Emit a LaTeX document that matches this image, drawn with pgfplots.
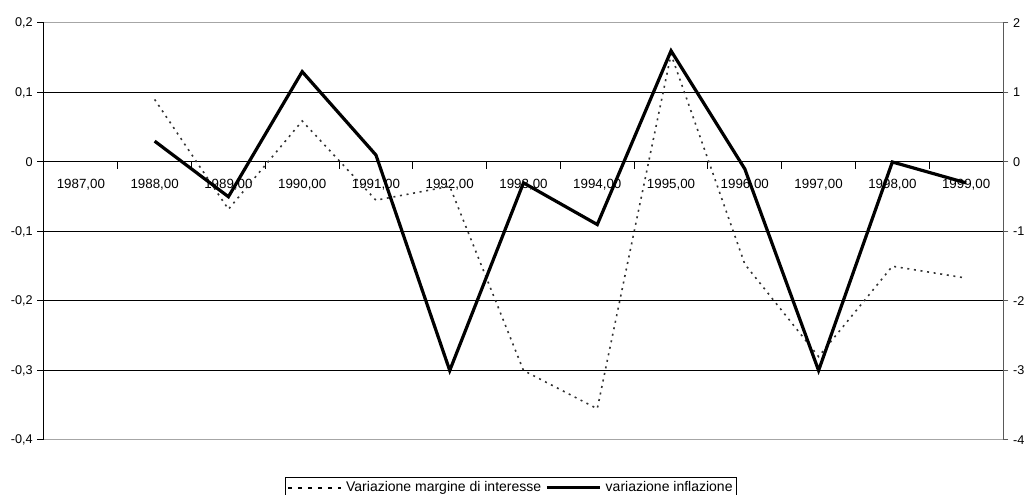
\documentclass[border=0pt]{standalone}
\usepackage{pgfplots}
\pgfplotsset{compat=1.18}
\usepackage{fontspec}
\setmainfont{Liberation Sans}
\begin{document}
\begin{tikzpicture}
\path[use as bounding box] (-33pt,-41.25pt) rectangle (739.5pt,330pt);
\begin{axis}[
  at={(0pt,0pt)}, anchor=south west,
  scale only axis, width=719.25pt, height=312.75pt,
  xmin=-0.5, xmax=12.5, ymin=-0.4, ymax=0.2,
  axis x line*=middle, axis y line*=left,
  axis line style={-, black, line width=0.75pt},
  xtick={0.5,1.5,2.5,3.5,4.5,5.5,6.5,7.5,8.5,9.5,10.5,11.5},
  xticklabels={},
  x tick style={black, line width=0.75pt, yshift=-2.5pt},
  xtick align=center,
  extra x ticks={0,1,2,3,4,5,6,7,8,9,10,11,12},
  extra x tick labels={{1987,00},{1988,00},{1989,00},{1990,00},{1991,00},{1992,00},{1993,00},{1994,00},{1995,00},{1996,00},{1997,00},{1998,00},{1999,00}},
  extra x tick style={major tick length=0pt, grid=none, xticklabel style={font=\fontsize{10}{12}\selectfont, yshift=-9pt}},
  ytick={-0.3,-0.2,-0.1,0,0.1},
  extra y ticks={-0.4,0.2},
  extra y tick style={grid style={gray!70, line width=0.75pt}},
  ymajorgrids, grid style={black, line width=0.75pt},
  ytick align=outside, major tick length=5pt,
  y tick style={black, line width=0.75pt},
  yticklabel style={font=\fontsize{9.5}{11}\selectfont, /pgf/number format/.cd, use comma, fixed, precision=1, assume math mode=true},
  clip=false,
]
\addplot[black!80, line width=1.2pt, dash pattern=on 1.5pt off 3.5pt] coordinates {
 (1,0.09) (2,-0.068) (3,0.059) (4,-0.055) (5,-0.035) (6,-0.30) (7,-0.355) (8,0.155) (9,-0.147) (10,-0.28) (11,-0.15) (12,-0.167)
};
\end{axis}
\begin{axis}[
  at={(0pt,0pt)}, anchor=south west,
  scale only axis, width=719.25pt, height=312.75pt,
  xmin=-0.5, xmax=12.5, ymin=-4, ymax=2,
  axis x line=none, axis y line*=right,
  axis line style={-, black!65, line width=0.75pt},
  ytick={-4,-3,-2,-1,0,1,2},
  tick align=outside, major tick length=4pt,
  y tick style={black!65, line width=0.75pt},
  yticklabel style={font=\fontsize{9.5}{11}\selectfont, /pgf/number format/assume math mode=true},
  legend columns=2,
  legend style={at={(0.487,-0.0887)}, anchor=north, draw=black, line width=0.75pt,
    font=\fontsize{10.5}{12}\selectfont, inner sep=1pt, column sep=1pt},
  legend image code/.code={\draw[#1] (0pt,0pt) -- (40pt,0pt);},
  legend cell align=left,
]
\addlegendimage{black, line width=1.5pt, dash pattern=on 3pt off 4.5pt}
\addlegendentry{Variazione margine di interesse}
\addplot[black, line width=2.4pt, line join=miter] coordinates {
 (1,0.3) (2,-0.5) (3,1.3) (4,0.1) (5,-3) (6,-0.3) (7,-0.9) (8,1.6) (9,-0.1) (10,-3) (11,0) (12,-0.3)
};
\addlegendentry{variazione inflazione}
\end{axis}
\end{tikzpicture}
\end{document}
